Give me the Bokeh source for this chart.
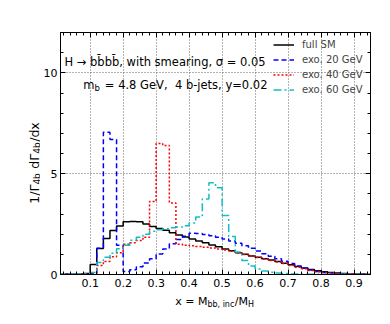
import math
from bokeh.plotting import figure
from bokeh.layouts import row, column
from bokeh.models import Range1d, FixedTicker, Label, Legend, LegendItem, LinearAxis
from bokeh.embed import file_html
from bokeh.resources import INLINE

# ---------------- data ----------------
bin_edges = [0.00, 0.02, 0.04, 0.06, 0.08, 0.10, 0.12, 0.14, 0.16, 0.18,
             0.20, 0.22, 0.24, 0.26, 0.28, 0.30, 0.32, 0.34, 0.36, 0.38,
             0.40, 0.42, 0.44, 0.46, 0.48, 0.50, 0.52, 0.54, 0.56, 0.58,
             0.60, 0.62, 0.64, 0.66, 0.68, 0.70, 0.72, 0.74, 0.76, 0.78,
             0.80, 0.82, 0.84, 0.86, 0.88, 0.90, 0.92, 0.94, 0.96]

full_sm = [0.00, 0.00, 0.01, 0.02, 0.05, 0.50, 1.29, 1.78, 2.18, 2.40,
           2.62, 2.63, 2.62, 2.50, 2.38, 2.28, 2.19, 2.07, 1.96, 1.86,
           1.76, 1.66, 1.57, 1.46, 1.37, 1.27, 1.18, 1.08, 1.00, 0.92,
           0.85, 0.78, 0.72, 0.64, 0.56, 0.48, 0.40, 0.32, 0.25, 0.19,
           0.14, 0.10, 0.07, 0.05, 0.03, 0.02, 0.01, 0.005]

exo_20 = [0.02, 0.02, 0.02, 0.02, 0.02, 0.05, 1.30, 7.05, 6.70, 1.45,
          0.15, 0.24, 0.38, 0.57, 0.78, 1.02, 1.27, 1.52, 1.74, 1.90,
          2.05, 2.03, 1.98, 1.92, 1.85, 1.76, 1.66, 1.55, 1.43, 1.30,
          1.16, 1.03, 0.90, 0.78, 0.66, 0.54, 0.42, 0.31, 0.22, 0.15,
          0.10, 0.07, 0.05, 0.03, 0.02, 0.01, 0.01, 0.005]

exo_40 = [0.02, 0.02, 0.02, 0.02, 0.02, 0.08, 0.45, 0.65, 0.88, 1.08,
          1.50, 1.58, 1.68, 1.85, 3.62, 6.50, 6.40, 3.55, 1.50, 1.45,
          1.42, 1.39, 1.35, 1.31, 1.27, 1.22, 1.15, 1.07, 0.99, 0.91,
          0.84, 0.77, 0.70, 0.62, 0.54, 0.45, 0.36, 0.28, 0.20, 0.14,
          0.10, 0.07, 0.04, 0.03, 0.02, 0.01, 0.01, 0.005]

exo_60 = [0.02, 0.02, 0.02, 0.02, 0.02, 0.10, 0.60, 0.85, 1.05, 1.28,
          1.45, 1.70, 1.85, 2.00, 2.15, 2.22, 2.27, 2.32, 2.36, 2.42,
          2.55, 2.85, 3.75, 4.55, 4.30, 2.92, 1.88, 1.12, 0.70, 0.42,
          0.27, 0.17, 0.11, 0.07, 0.05, 0.03, 0.02, 0.01, 0.01, 0.01,
          0.01, 0.01, 0.01, 0.01, 0.01, 0.01, 0.01, 0.01]

series_names = ["full SM", "exo. 20 GeV", "exo. 40 GeV", "exo. 60 GeV"]

x_ticks = [0.1, 0.2, 0.3, 0.4, 0.5, 0.6, 0.7, 0.8, 0.9]
x_minor = [0.02, 0.04, 0.06, 0.08, 0.12, 0.14, 0.16, 0.18, 0.22, 0.24, 0.26, 0.28,
           0.32, 0.34, 0.36, 0.38, 0.42, 0.44, 0.46, 0.48, 0.52, 0.54, 0.56, 0.58,
           0.62, 0.64, 0.66, 0.68, 0.72, 0.74, 0.76, 0.78, 0.82, 0.84, 0.86, 0.88,
           0.92, 0.94]
y_ticks = [0, 5, 10]
y_minor = [1, 2, 3, 4, 6, 7, 8, 9, 11, 12]

FONT = "DejaVu Sans"

# ---------------- layout sizes ----------------
YLAB_W = 40
MAIN_W = 350
MAIN_H = 294
XLAB_H = 30
TOTAL_H = MAIN_H + XLAB_H

# ---------------- main figure ----------------
p = figure(width=MAIN_W, height=MAIN_H, output_backend="svg", toolbar_location=None,
           x_range=Range1d(0.01, 0.95), y_range=Range1d(0, 12),
           min_border_left=18, min_border_right=20, min_border_top=32,
           min_border_bottom=20)
p.background_fill_color = "white"
p.border_fill_color = "white"
p.outline_line_color = "black"
p.outline_line_width = 1

xt = FixedTicker(ticks=x_ticks, minor_ticks=x_minor)
yt = FixedTicker(ticks=y_ticks, minor_ticks=y_minor)


def style_axis(ax, labels=True):
    ax.major_tick_in = 5
    ax.major_tick_out = 0
    ax.minor_tick_in = 3
    ax.minor_tick_out = 0
    ax.major_tick_line_color = "black"
    ax.minor_tick_line_color = "black"
    ax.axis_line_color = "black"
    ax.major_label_text_font = FONT
    ax.major_label_text_font_size = "11px"
    if labels:
        ax.major_label_text_color = "black"
        ax.major_label_standoff = 3
    else:
        ax.major_label_text_color = None
        ax.major_label_standoff = 0


p.xaxis.ticker = xt
p.yaxis.ticker = yt
style_axis(p.xaxis[0])
style_axis(p.yaxis[0])
p.xaxis[0].major_label_standoff = 4
top_ax = LinearAxis(ticker=xt)
right_ax = LinearAxis(ticker=yt)
style_axis(top_ax, labels=False)
style_axis(right_ax, labels=False)
p.add_layout(top_ax, "above")
p.add_layout(right_ax, "right")

p.xgrid.ticker = xt
p.ygrid.ticker = yt
for g in (p.xgrid[0], p.ygrid[0]):
    g.grid_line_color = "#666666"
    g.grid_line_dash = "1 2"
    g.grid_line_width = 1

# ---------------- histograms ----------------
styles = [
    dict(line_color="black", line_width=1.5),
    dict(line_color="#0000ff", line_width=1.5, line_dash="5 3"),
    dict(line_color="#ff0000", line_width=1.5, line_dash="2 2"),
    dict(line_color="#10c0c0", line_width=1.5, line_dash="8 3 2 3"),
]
renderers = []
for vals, st in zip([full_sm, exo_20, exo_40, exo_60], styles):
    yv = list(vals) + [vals[-1]]
    r = p.step(x=bin_edges, y=yv, mode="after", **st)
    renderers.append(r)

legend = Legend(items=[LegendItem(label=n, renderers=[r]) for n, r in zip(series_names, renderers)],
                location=(213, 177), glyph_width=21, glyph_height=15, label_height=15,
                spacing=0, padding=0, margin=0, label_standoff=8,
                border_line_color=None, background_fill_alpha=0,
                label_text_font_size="10px", label_text_font=FONT)
p.add_layout(legend)

# ---------------- rich texts ----------------
W = {' ': 0.318, '\u00a0': 0.318, '0': 0.636, '1': 0.636, '2': 0.636, '3': 0.636,
     '4': 0.636, '5': 0.636, '6': 0.636, '7': 0.636, '8': 0.636, '9': 0.636, '.': 0.318,
     ',': 0.318, '/': 0.337, '=': 0.838, '-': 0.361, 'a': 0.613, 'b': 0.635, 'c': 0.550,
     'd': 0.635, 'e': 0.615, 'f': 0.352, 'g': 0.635, 'h': 0.634, 'i': 0.278, 'j': 0.278,
     'k': 0.579, 'l': 0.278, 'm': 0.974, 'n': 0.634, 'o': 0.612, 'p': 0.635, 'r': 0.411,
     's': 0.521, 't': 0.392, 'u': 0.634, 'v': 0.592, 'w': 0.818, 'x': 0.592, 'y': 0.592,
     'G': 0.775, 'H': 0.752, 'M': 0.863, 'S': 0.635, 'V': 0.684, '\u0393': 0.557,
     '\u03c3': 0.634, '\u2192': 0.838, '\u0304': 0.0}


def tw(s, size):
    return sum(W.get(c, 0.6) for c in s) * size


def chain(fig, parts, x, y, centered=False, rotated=False):
    # parts: (text, font size px, baseline shift px, extra gap px after the part)
    total = sum(tw(t, s) + gap for t, s, _, gap in parts)
    off = -total / 2 if centered else 0
    for txt, size, shift, gap in parts:
        kw = dict(x=x, y=y, text=txt, text_font=FONT, text_font_size=f"{size}px",
                  text_color="black", text_baseline="alphabetic", text_align="left")
        if rotated:
            lab = Label(x_offset=-shift, y_offset=off, angle=math.pi / 2, **kw)
        else:
            lab = Label(x_offset=off, y_offset=shift, **kw)
        fig.add_layout(lab)
        off += tw(txt, size) + gap


chain(p, [("H \u2192 bb\u0304bb\u0304, with smearing, \u03c3 = 0.05", 11.5, 0, 0)], 0.022, 10.56)
chain(p, [("m", 11.5, 0, 0), ("b", 8.5, -3, 5),
          ("= 4.8 GeV,\u00a0 4 b-jets, y=0.02", 11.5, 0, 0)], 0.079, 9.42)


def text_panel(w, h):
    f = figure(width=w, height=h, output_backend="svg", toolbar_location=None,
               x_range=Range1d(0, w), y_range=Range1d(0, h),
               min_border=0, x_axis_location=None, y_axis_location=None)
    f.outline_line_color = None
    f.grid.visible = False
    f.background_fill_color = "white"
    f.border_fill_color = "white"
    return f


ylab = text_panel(YLAB_W, TOTAL_H)
chain(ylab, [("1/\u0393", 12.5, 0, 0), ("4b", 9, -2.5, 4.5), ("d\u0393", 12.5, 0, 0),
             ("4b", 9, -2.5, 0.5), ("/dx", 12.5, 0, 0)],
      34, TOTAL_H - 162.5, centered=True, rotated=True)

xlab = text_panel(MAIN_W, XLAB_H)
chain(xlab, [("x = M", 11, 0, 0), ("bb, inc", 8, -3, 0.5), ("/M", 11, 0, 0), ("H", 8, -3, 0)],
      214 - YLAB_W, TOTAL_H - 301, centered=True)

layout = row(ylab, column(p, xlab, spacing=0), spacing=0)

open("out.html", "w").write(file_html(layout, INLINE))
